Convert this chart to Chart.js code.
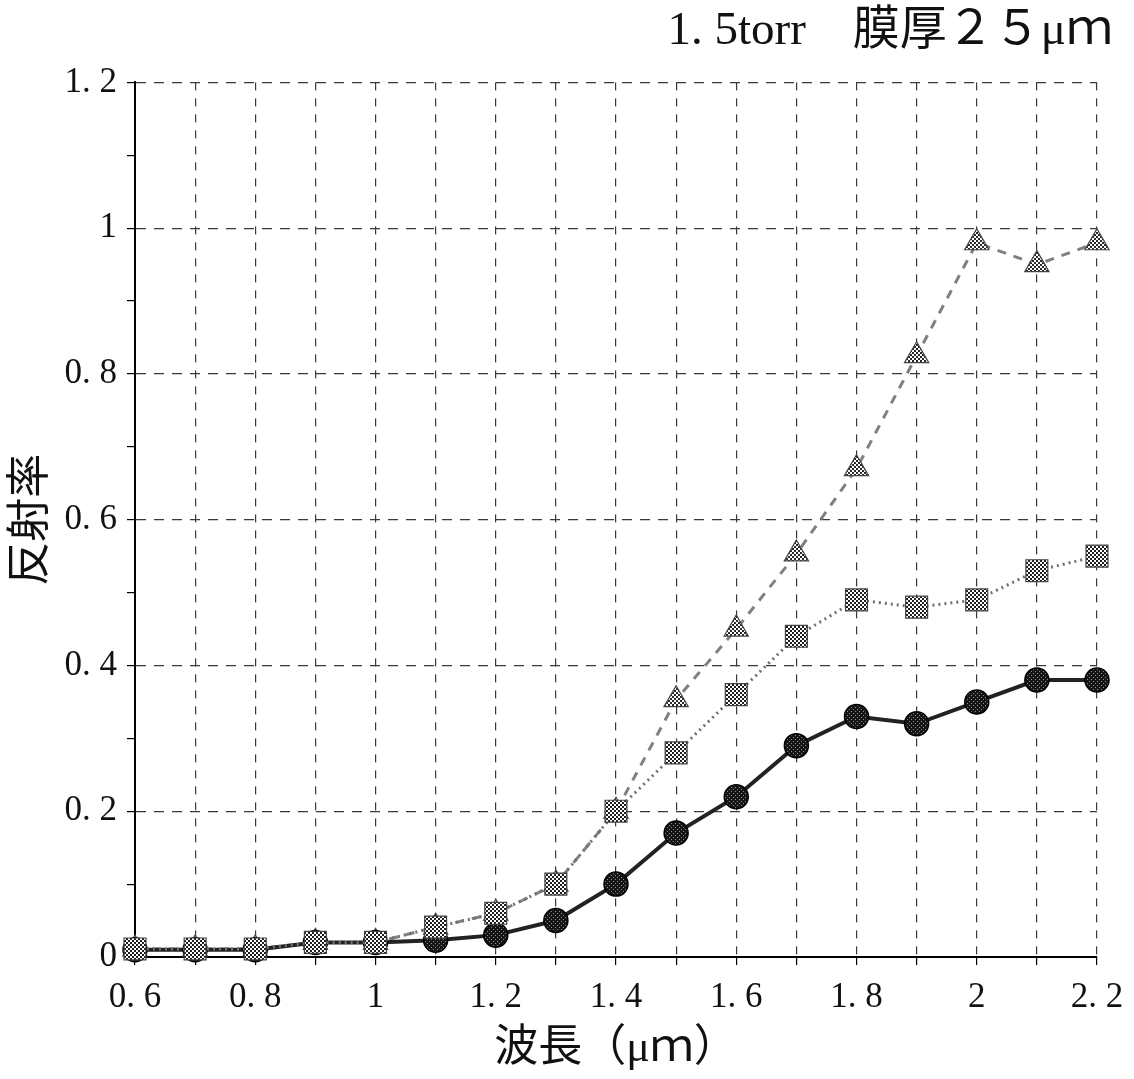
<!DOCTYPE html>
<html>
<head>
<meta charset="utf-8">
<title>反射率</title>
<script src="https://cdn.jsdelivr.net/npm/chart.js@4.4.0/dist/chart.umd.min.js"></script>
<style>
  html, body { margin: 0; padding: 0; background: #fff; }
  #wrap { width: 1134px; height: 1079px; }
</style>
</head>
<body>
<div id="wrap"><canvas id="myChart" width="1134" height="1079"></canvas></div>
<script>
// wavelength (um)
const wavelength = [0.6, 0.7, 0.8, 0.9, 1.0, 1.1, 1.2, 1.3, 1.4, 1.5, 1.6, 1.7, 1.8, 1.9, 2.0, 2.1, 2.2];
const circleVals = [0.01, 0.01, 0.01, 0.02, 0.02, 0.023, 0.03, 0.05, 0.10, 0.17, 0.22, 0.29, 0.33, 0.32, 0.35, 0.38, 0.38];
const squareVals = [0.011, 0.011, 0.011, 0.02, 0.02, 0.041, 0.06, 0.10, 0.20, 0.28, 0.36, 0.44, 0.49, 0.48, 0.49, 0.53, 0.55];
const triangleVals = [0.011, 0.011, 0.011, 0.02, 0.02, 0.041, 0.06, 0.10, 0.20, 0.353, 0.45, 0.553, 0.67, 0.825, 0.98, 0.95, 0.98];
const titleText = '1. 5torr　膜厚２５μｍ';
const xTitle = '波長（μｍ）';
const yTitle = '反射率';

function makePattern(bg, fg, dots){
    let c = document.createElement('canvas');
    c.width = 4; c.height = 4;
    let g = c.getContext('2d');
    g.fillStyle = bg;
    g.fillRect(0, 0, 4, 4);
    g.fillStyle = fg;
    for (let d of dots){
        g.fillRect(d[0], d[1], d[2], d[2]);
    }
    return g.createPattern(c, 'repeat');
}

function toPoints(vals){
    let pts = [];
    for (let i = 0; i < wavelength.length; i++){
        pts.push({x: wavelength[i], y: vals[i]});
    }
    return pts;
}

// "0.6" -> "0. 6" like the original print
function fmt(v){
    let s = (Math.round(v * 10) / 10).toString();
    return s.replace('.', '. ');
}

const squareFill = makePattern('#ffffff', '#1e1e1e', [[0,0,2],[2,2,2]]);
const circleFill = makePattern('#161616', '#8a8a8a', [[1,1,1],[3,3,1]]);
const triFill = makePattern('#ffffff', '#2a2a2a', [[0,0,2],[2,2,2]]);

const serif = "'Liberation Serif', 'Noto Sans CJK JP', serif";

const data = {
    datasets: [
        {
            label: 'square',
            data: toPoints(squareVals),
            borderColor: '#707070',
            borderWidth: 3,
            borderDash: [2, 4],
            pointStyle: 'rect',
            pointRadius: 15.5,
            pointBackgroundColor: squareFill,
            pointBorderColor: '#444',
            pointBorderWidth: 1.2,
            clip: false
        },
        {
            label: 'circle',
            data: toPoints(circleVals),
            borderColor: '#222',
            borderWidth: 4,
            pointStyle: 'circle',
            pointRadius: 12,
            pointBackgroundColor: circleFill,
            pointBorderColor: '#000',
            pointBorderWidth: 1.5,
            clip: false
        },
        {
            label: 'triangle',
            data: toPoints(triangleVals),
            borderColor: '#808080',
            borderWidth: 3,
            borderDash: [9, 8],
            pointStyle: 'triangle',
            pointRadius: 14,
            pointBackgroundColor: triFill,
            pointBorderColor: '#444',
            pointBorderWidth: 1.2,
            clip: false
        }
    ]
};

const config = {
    type: 'line',
    data: data,
    options: {
        responsive: false,
        animation: false,
        devicePixelRatio: 1,
        layout: { padding: { left: 0, right: 21, top: 0, bottom: 0 } },
        plugins: {
            legend: { display: false },
            tooltip: { enabled: false },
            title: {
                display: true,
                text: titleText,
                align: 'end',
                color: '#111',
                font: { family: serif, size: 47, weight: 'normal' },
                padding: { top: 3, bottom: 23 }
            }
        },
        scales: {
            x: {
                type: 'linear',
                min: 0.6,
                max: 2.2,
                border: { display: true, color: '#000', width: 2, dash: [8, 8] },
                grid: {
                    color: '#3a3a3a',
                    lineWidth: 1.2,
                    tickColor: '#000',
                    tickLength: 8,
                    tickBorderDash: []
                },
                ticks: {
                    stepSize: 0.1,
                    autoSkip: false,
                    maxRotation: 0,
                    color: '#111',
                    padding: 12,
                    font: { family: serif, size: 35 },
                    callback: function(v, i){ return i % 2 === 0 ? fmt(v) : ''; }
                },
                title: {
                    display: true,
                    text: xTitle,
                    color: '#111',
                    font: { family: serif, size: 44 },
                    padding: { top: 0, bottom: 3 }
                },
                afterFit: function(scale){
                    scale.height = 122;
                    scale.paddingRight = 37;
                    scale.paddingLeft = 0;
                }
            },
            y: {
                min: 0,
                max: 1.2,
                border: { display: true, color: '#000', width: 2, dash: [10, 8] },
                grid: {
                    color: function(ctx){ return ctx.index % 2 === 0 ? '#3a3a3a' : 'rgba(0,0,0,0)'; },
                    lineWidth: 1.2,
                    tickColor: '#000',
                    tickLength: 8,
                    tickBorderDash: []
                },
                ticks: {
                    stepSize: 0.1,
                    autoSkip: false,
                    color: '#111',
                    padding: 10,
                    font: { family: serif, size: 35 },
                    callback: function(v, i){ return i % 2 === 0 ? fmt(v) : ''; }
                },
                title: {
                    display: true,
                    text: yTitle,
                    color: '#111',
                    font: { family: serif, size: 44 },
                    padding: { top: 6, bottom: 0 }
                },
                afterFit: function(scale){
                    scale.width = 135;
                }
            }
        }
    }
};

const myChart = new Chart(document.getElementById('myChart'), config);
</script>
</body>
</html>
